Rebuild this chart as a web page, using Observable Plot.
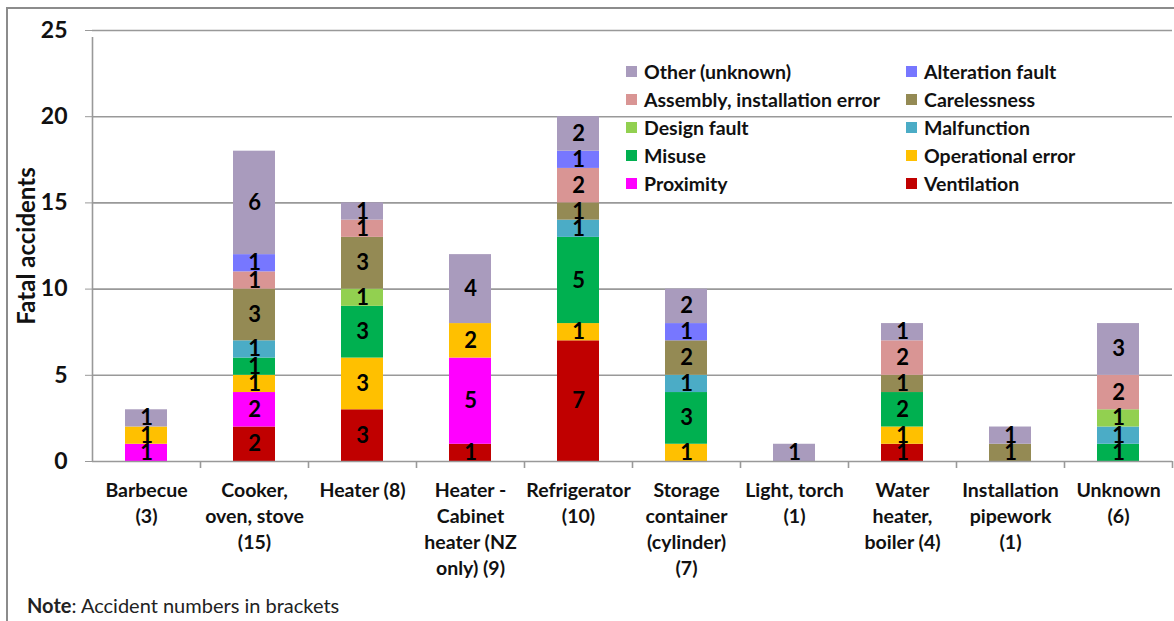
<!DOCTYPE html>
<html>
<head>
<meta charset="utf-8">
<script src="https://cdn.jsdelivr.net/npm/d3@7"></script>
<script src="https://cdn.jsdelivr.net/npm/@observablehq/plot@0.6"></script>
<style>
  html, body { margin: 0; padding: 0; background: #fff; }
  body { width: 1174px; height: 621px; position: relative; overflow: hidden; font-family: Lato, "Liberation Sans", sans-serif; }
  #frame { position: absolute; left: 6px; top: 7px; width: 1200px; height: 700px; border: 2px solid #8c8c8c; box-sizing: border-box; }
  #chart { position: absolute; left: 0; top: 0; }
  #legend { position: absolute; left: 626px; top: 57px; display: grid; grid-template-columns: 280px 260px; grid-auto-rows: 28px; font-size: 19.5px; font-weight: bold; color: #111; }
  #legend .item { display: flex; align-items: center; white-space: nowrap; }
  #legend .sw { width: 11px; height: 11px; margin-right: 7px; flex: none; }
  #note { position: absolute; left: 27px; top: 593px; font-size: 20px; color: #222; }
  #chart svg g[aria-label="y-axis label"] text { font-size: 24px; }
</style>
</head>
<body>
<div id="frame"></div>
<div id="chart"></div>
<div id="legend"></div>
<div id="note"><b>Note</b>: Accident numbers in brackets</div>
<script>
const categories = ["Barbecue (3)", "Cooker, oven, stove (15)", "Heater (8)", "Heater - Cabinet heater (NZ only) (9)", "Refrigerator (10)", "Storage container (cylinder) (7)", "Light, torch (1)", "Water heater, boiler (4)", "Installation pipework (1)", "Unknown (6)"];
const tickLabels = ["Barbecue\n(3)", "Cooker,\noven, stove\n(15)", "Heater (8)", "Heater -\nCabinet\nheater (NZ\nonly) (9)", "Refrigerator\n(10)", "Storage\ncontainer\n(cylinder)\n(7)", "Light, torch\n(1)", "Water\nheater,\nboiler (4)", "Installation\npipework\n(1)", "Unknown\n(6)"];
// stack order, bottom to top
const causes = ["Ventilation", "Proximity", "Operational error", "Misuse", "Malfunction", "Design fault", "Carelessness", "Assembly, installation error", "Alteration fault", "Other (unknown)"];
const colors = ["#C00000", "#FF00FF", "#FFC000", "#00B050", "#4BACC6", "#92D050", "#948A54", "#D99594", "#7777FF", "#A99BBD"];
// legend order (row-major, two columns)
const legendOrder = ["Other (unknown)", "Alteration fault", "Assembly, installation error", "Carelessness", "Design fault", "Malfunction", "Misuse", "Operational error", "Proximity", "Ventilation"];
const yTicks = [0, 5, 10, 15, 20, 25];

const ventilation  = [0, 2, 3, 1, 7, 0, 0, 1, 0, 0];
const proximity    = [1, 2, 0, 5, 0, 0, 0, 0, 0, 0];
const operational  = [1, 1, 3, 2, 1, 1, 0, 1, 0, 0];
const misuse       = [0, 1, 3, 0, 5, 3, 0, 2, 0, 1];
const malfunction  = [0, 1, 0, 0, 1, 1, 0, 0, 0, 1];
const designFault  = [0, 0, 1, 0, 0, 0, 0, 0, 0, 1];
const carelessness = [0, 3, 3, 0, 1, 2, 0, 1, 1, 0];
const assembly     = [0, 1, 1, 0, 2, 0, 0, 2, 0, 2];
const alteration   = [0, 1, 0, 0, 1, 1, 0, 0, 0, 0];
const other        = [1, 6, 1, 4, 2, 2, 1, 1, 1, 3];

const series = [ventilation, proximity, operational, misuse, malfunction, designFault, carelessness, assembly, alteration, other];
const rows = [];
causes.forEach((c, i) => categories.forEach((cat, j) => {
  if (series[i][j] > 0) rows.push({category: cat, cause: c, value: series[i][j]});
}));
const labelOf = new Map(categories.map((c, i) => [c, tickLabels[i]]));

const W = 1174, H = 592, mL = 92, mR = 2, mT = 30, mB = 131;
const step = (W - mL - mR) / categories.length;
const font = "Lato, 'Liberation Sans', sans-serif";

const chart = Plot.plot({
  width: W, height: H,
  marginLeft: mL, marginRight: mR, marginTop: mT, marginBottom: mB,
  style: {fontFamily: font, color: "#111", background: "transparent", overflow: "visible"},
  x: {domain: categories, paddingInner: 0.61, paddingOuter: 0.305},
  y: {domain: [0, 25]},
  color: {domain: causes, range: colors},
  marks: [
    Plot.gridY(yTicks.filter(t => t > 0), {stroke: "#999", strokeOpacity: 1, strokeWidth: 1.6}),
    Plot.barY(rows, Plot.stackY({x: "category", y: "value", fill: "cause", order: causes})),
    Plot.text(rows, Plot.stackY({x: "category", y: "value", z: "cause", order: causes, text: d => String(d.value), fontSize: 22, fontWeight: "bold", fill: "#000"})),
    Plot.ruleY([0], {stroke: "#999", strokeWidth: 1.6}),
    Plot.ruleX([0], {x: () => categories[0], dx: -step / 2, y1: 0, y2: 25, stroke: "#999", strokeWidth: 1.6, insetBottom: -7}),
    Plot.ruleX(categories, {x: d => d, dx: step / 2, y1: 0, y2: 0, stroke: "#999", strokeWidth: 1.6, insetBottom: -7}),
    Plot.axisY({ticks: yTicks, tickSize: 7, tickPadding: 18, fontSize: 23, fontWeight: "bold", stroke: "#999", label: "Fatal accidents", labelAnchor: "center", labelArrow: "none", labelOffset: 75}),
    Plot.axisX({tickSize: 0, tickPadding: 17, fontSize: 19.5, fontWeight: "bold", lineHeight: 1.33, tickFormat: d => labelOf.get(d), label: null})
  ]
});
document.getElementById("chart").appendChild(chart);

const legend = document.getElementById("legend");
legendOrder.forEach(c => {
  const item = document.createElement("div");
  item.className = "item";
  const sw = document.createElement("span");
  sw.className = "sw";
  sw.style.background = colors[causes.indexOf(c)];
  const t = document.createElement("span");
  t.textContent = c;
  item.appendChild(sw); item.appendChild(t);
  legend.appendChild(item);
});
</script>
</body>
</html>
